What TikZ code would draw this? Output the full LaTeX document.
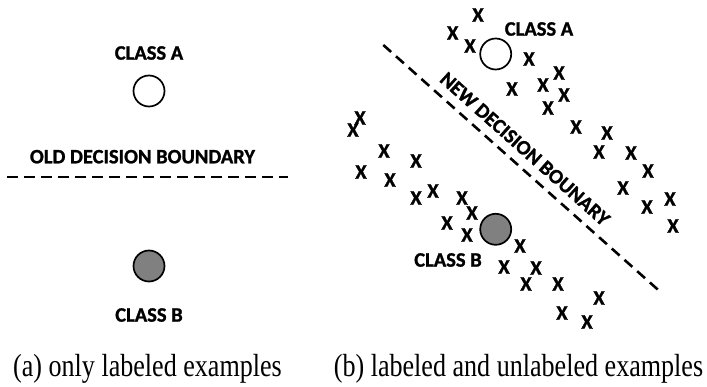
\documentclass[tikz,border=0pt]{standalone}
\usepackage{fontspec}
\usepackage{graphicx}
\newfontfamily\labfont{Carlito}[BoldFont={Carlito Bold}, BoldFeatures={FakeBold=1.2}]
\newfontfamily\capfont{Liberation Serif}
\begin{document}
\begin{tikzpicture}[x=1pt,y=-1pt,
  lbl/.style={font=\labfont\bfseries\fontsize{20.5}{24}\selectfont, inner sep=0pt, text=black},
  xm/.style={lbl},
  cls/.style={circle, draw=black, line width=1.7pt, minimum size=31pt, inner sep=0pt},
  clsa/.style={cls, fill=white},
  clsb/.style={cls, fill=black!50},
  bnd/.style={draw=black, line width=2.6pt, dash pattern=on 10.5pt off 6.5pt},
  captxt/.style={font=\capfont\fontsize{32}{36}\selectfont, inner sep=0pt, anchor=base}]
\useasboundingbox (0,0) rectangle (707,387);
% ---- panel (a)
\node[lbl] (la) at (149,53) {CLASS A};
\node[clsa] (ca) at (149,91) {};
\node[lbl] (old) at (142.5,156.7) {OLD DECISION BOUNDARY};
\coordinate (o1) at (7,177);
\coordinate (o2) at (288,177);
\draw[bnd] (o1) -- (o2);
\node[clsb] (cb) at (149,266) {};
\node[lbl] (lb) at (149,315) {CLASS B};
% ---- panel (b)
\coordinate (n1) at (383.3,45);
\coordinate (n2) at (658.3,290);
\draw[bnd] (n1) -- (n2);
\node[lbl, rotate=-41.7] (new) at (525,149) {NEW DECISION BOUNARY};
\node[clsa] (ca2) at (495.7,54) {};
\node[lbl] (la2) at (539,29) {CLASS A};
\node[clsb] (cb2) at (495.7,229.3) {};
\node[lbl] (lb2) at (448,260) {CLASS B};
\foreach \p [count=\i] in {(478,15),(452.7,33),(470,46),(529,59),(512,89),(543,85),(559,73),(564,95),(548,108),(576,127),(607,133),(599,152),(631,153),(648,171),(623,188),(670,199),(647,207),(673,226),(360,118),(353,130),(384,151),(416,161),(361,172),(390,180),(416,198),(433,191),(462,198),(472,213),(447,223),(467,235),(520,246),(504,267),(536,268),(526,284),(558,284),(599,298),(562,313),(587,322)}
  \node[xm] (x\i) at \p {X};
% ---- captions
\node[captxt] (capa) at (147.5,377) {\scalebox{0.815}[1]{(a) only labeled examples}};
\node[captxt] (capb) at (518.5,377) {\scalebox{0.815}[1]{(b) labeled and unlabeled examples}};
\end{tikzpicture}
\end{document}
